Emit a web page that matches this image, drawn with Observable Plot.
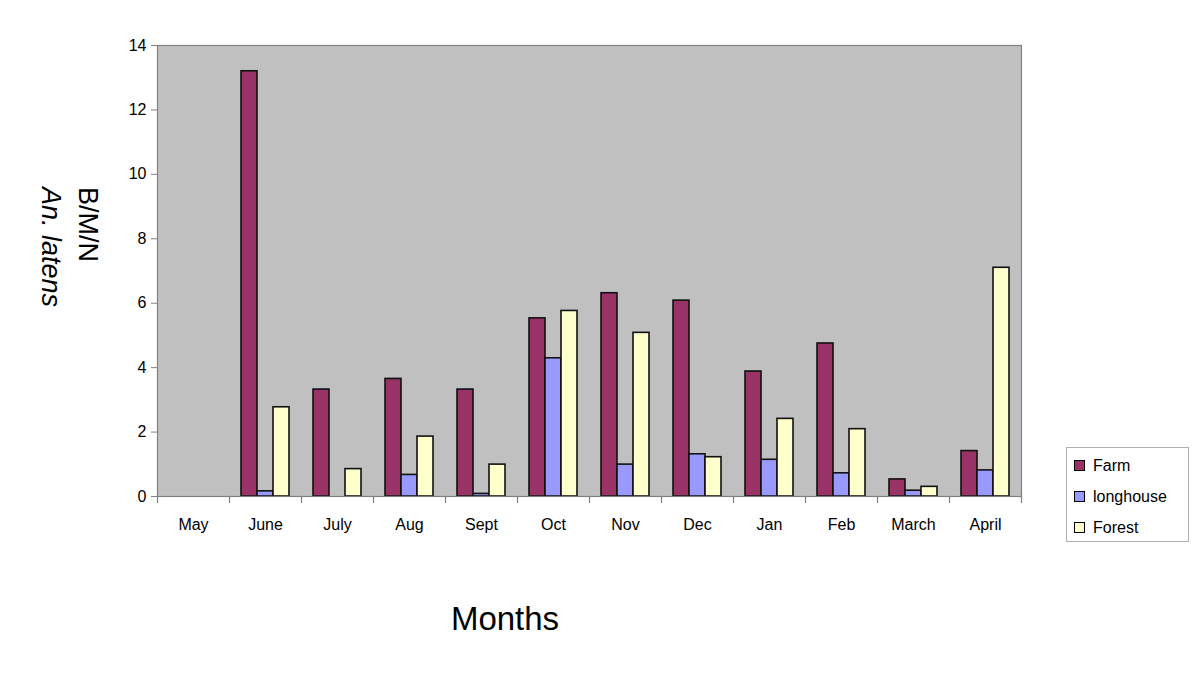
<!DOCTYPE html>
<html><head><meta charset="utf-8">
<script src="https://cdn.jsdelivr.net/npm/d3@7"></script>
<script src="https://cdn.jsdelivr.net/npm/@observablehq/plot@0.6"></script>
<style>
body{margin:0;background:#fff;font-family:"Liberation Sans",Arial,sans-serif;}
#wrap{position:relative;width:1200px;height:684px;overflow:hidden;}
#wrap svg{position:absolute;left:0;top:0;}
.ylab{position:absolute;left:0;top:0;transform-origin:0 0;white-space:nowrap;font-size:27px;line-height:37px;color:#000;}
.xtitle{position:absolute;left:0;width:1010px;text-align:center;top:600px;font-size:33px;color:#000;}
.legend{position:absolute;left:1066px;top:447px;width:123px;height:95px;border:1px solid #b0b0b0;background:#fff;box-sizing:border-box;padding-top:2px;}
.legend .item{display:flex;align-items:center;height:31px;font-size:16px;padding-left:7px;}
.legend .sw{width:9px;height:9px;border:1px solid #000;margin-right:8px;}
</style></head><body><div id="wrap"></div>
<script>
const months = ["May","June","July","Aug","Sept","Oct","Nov","Dec","Jan","Feb","March","April"];
const seriesNames = ["Farm","longhouse","Forest"];
const farm      = [null,13.20,3.32,3.65,3.32,5.53,6.31,6.08,3.88,4.75,0.53,1.41];
const longhouse = [null,0.16,null,0.67,0.08,4.29,0.99,1.31,1.14,0.72,0.18,0.81];
const forest    = [null,2.77,0.85,1.86,0.99,5.76,5.08,1.22,2.41,2.09,0.30,7.10];
const yTicks = [0,2,4,6,8,10,12,14];
const colors = ["#993366","#9999ff","#ffffcc"];
const yLabelLines = ["B/M/N","An. latens"];
const xTitle = "Months";

const valuesBySeries = [farm, longhouse, forest];
const rows = months.flatMap((m, i) => seriesNames.map((s, j) => ({month: m, series: s, value: valuesBySeries[j][i]})));

const plotH = 684 - 45 - 188;
const chart = Plot.plot({
  width: 1200, height: 684,
  marginTop: 45, marginBottom: 188, marginLeft: 155, marginRight: 178,
  style: {fontFamily: "'Liberation Sans', Arial, sans-serif", fontSize: "16px", background: "transparent", color: "#000"},
  fx: {domain: months, padding: 0, label: null},
  x: {domain: seriesNames, paddingInner: 0, paddingOuter: 0.75, axis: null},
  y: {domain: [0, 14], label: null},
  color: {domain: seriesNames, range: colors},
  marks: [
    Plot.frame({fill: "#c0c0c0", facet: "super"}),
    Plot.barY(rows, {fx: "month", x: "series", y: "value", fill: "series", stroke: "#111", strokeWidth: 1.6}),
    Plot.frame({stroke: "#808080", strokeWidth: 1.2, facet: "super"}),
    // category boundary tick marks below the x axis
    Plot.frame({anchor: "left", stroke: "#808080", strokeWidth: 1.2, insetTop: plotH, insetBottom: -6}),
    Plot.frame({anchor: "right", stroke: "#808080", strokeWidth: 1.2, insetTop: plotH, insetBottom: -6, facet: "super"}),
    Plot.axisY({ticks: yTicks, tickSize: 6, tickPadding: 5, fontSize: 16, stroke: "#808080", label: null}),
    Plot.axisFx({anchor: "bottom", tickSize: 0, tickPadding: 22, fontSize: 16, label: null})
  ]
});
const wrap = document.getElementById("wrap");
wrap.appendChild(chart);

const yl = document.createElement("div");
yl.className = "ylab";
yl.innerHTML = `<div>${yLabelLines[0]}</div><div style="font-style:italic">${yLabelLines[1]}</div>`;
yl.style.transform = "translate(106px,187px) rotate(90deg)";
wrap.appendChild(yl);

const xt = document.createElement("div");
xt.className = "xtitle";
xt.textContent = xTitle;
wrap.appendChild(xt);

const lg = document.createElement("div");
lg.className = "legend";
seriesNames.forEach((s, i) => {
  const it = document.createElement("div");
  it.className = "item";
  it.innerHTML = `<span class="sw" style="background:${colors[i]}"></span><span>${s}</span>`;
  lg.appendChild(it);
});
wrap.appendChild(lg);
</script></body></html>
